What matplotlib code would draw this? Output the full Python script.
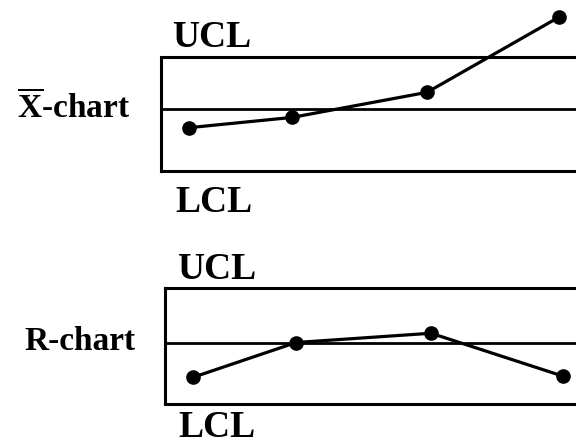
import matplotlib
matplotlib.use("Agg")
import matplotlib.pyplot as plt

W, H, DPI = 576, 447, 100

# sample positions along the time axis (shared by both charts)
samples = [0.28, 1.31, 2.66, 3.98]

# X-bar chart: control limits and subgroup means
xbar_lcl, xbar_cl, xbar_ucl = 0.0, 5.4, 10.0
xbar_values = [3.8, 4.7, 6.9, 13.5]

# R chart: control limits and subgroup ranges
r_lcl, r_cl, r_ucl = 0.0, 5.3, 10.0
r_values = [2.3, 5.3, 6.1, 2.4]

plt.rcParams["font.family"] = ["Liberation Serif", "DejaVu Serif"]
plt.rcParams["font.weight"] = "bold"
plt.rcParams["mathtext.fontset"] = "custom"
plt.rcParams["mathtext.rm"] = "Liberation Serif:bold"
plt.rcParams["mathtext.bf"] = "Liberation Serif:bold"


def fx(px):
    return px / W


def fy(py):
    return 1 - py / H


def control_chart(ax, lcl, cl, ucl, values, xmax):
    ax.set_xlim(0, xmax)
    ax.set_ylim(lcl, ucl)
    ax.axhline(cl, color="black", linewidth=2.0)
    ax.plot(samples, values, color="black", linewidth=2.3,
            marker="o", markersize=9.5, clip_on=False, zorder=5)
    for side in ("left", "top", "bottom"):
        ax.spines[side].set_linewidth(2.2)
    ax.spines["right"].set_visible(False)
    ax.set_xticks([])
    ax.set_yticks([])
    ax.patch.set_alpha(0)


fig = plt.figure(figsize=(W / DPI, H / DPI), dpi=DPI)

# X-bar chart box: left edge 161px, UCL at 57px, LCL at 171px
ax1 = fig.add_axes([fx(161), fy(171), 1 - fx(161), (171 - 57) / H])
control_chart(ax1, xbar_lcl, xbar_cl, xbar_ucl, xbar_values, (W - 161) / 100)

# R chart box: left edge 165px, UCL at 288px, LCL at 404px
ax2 = fig.add_axes([fx(165), fy(404), 1 - fx(165), (404 - 288) / H])
control_chart(ax2, r_lcl, r_cl, r_ucl, r_values, (W - 165) / 100)

lim_size = 27
lab_size = 24
fig.text(fx(172), fy(47), "UCL", fontsize=lim_size, va="baseline")
fig.text(fx(175), fy(212), "LCL", fontsize=lim_size, va="baseline")
fig.text(fx(177), fy(279), "UCL", fontsize=lim_size, va="baseline")
fig.text(fx(178), fy(437), "LCL", fontsize=lim_size, va="baseline")

fig.text(fx(17), fy(118), r"$\overline{\mathbf{X}}$-chart", fontsize=lab_size, va="baseline")
fig.text(fx(24), fy(350), "R-chart", fontsize=lab_size, va="baseline")

fig.savefig("out.png", dpi=DPI, facecolor="white")
